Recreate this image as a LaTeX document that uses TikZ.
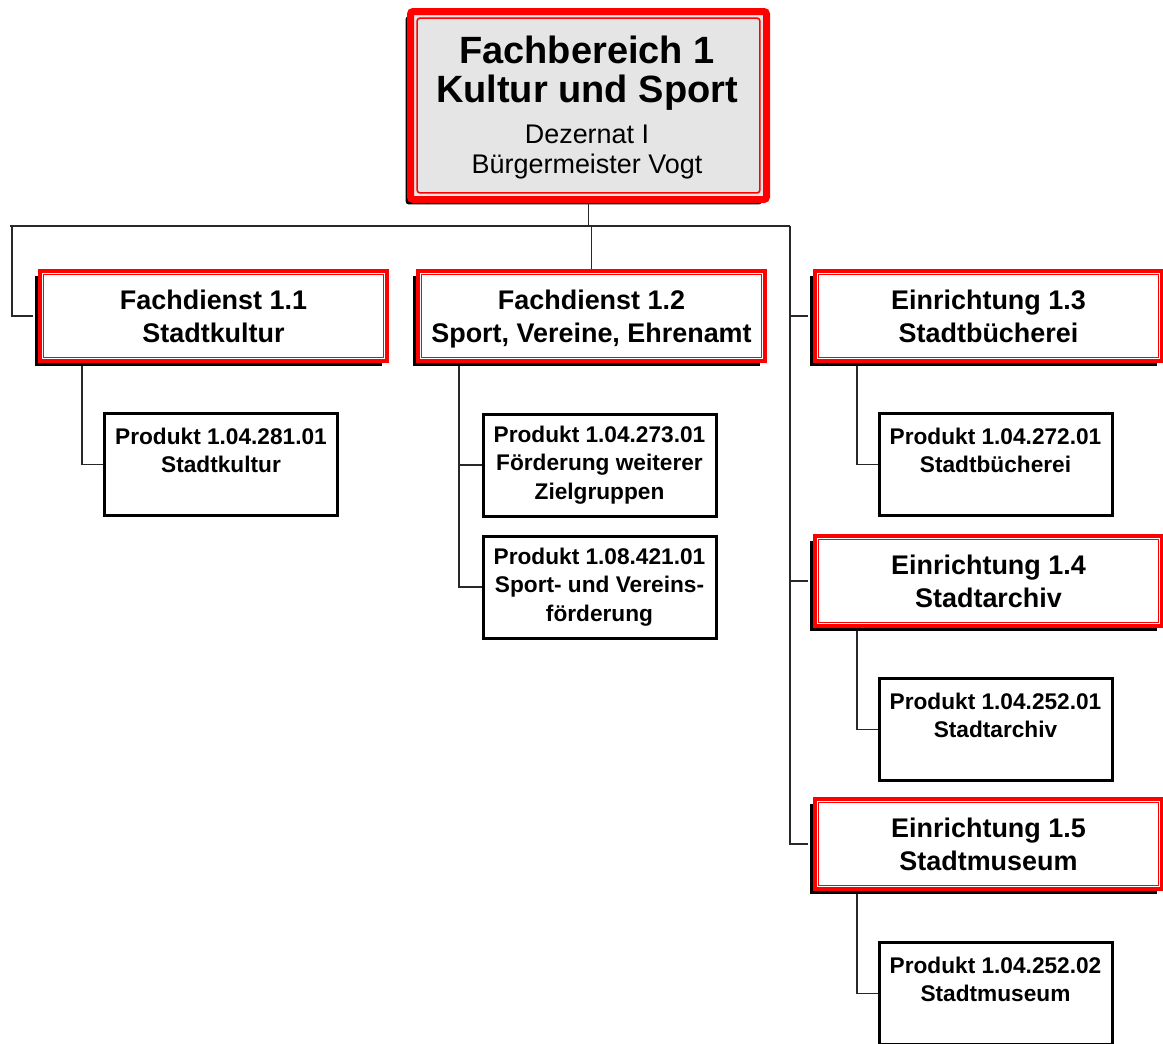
\documentclass[tikz,border=0pt]{standalone}
\usepackage{fontspec}
\setmainfont{Liberation Sans}
\usetikzlibrary{shadows}
\definecolor{topgray}{RGB}{229,229,229}
\definecolor{linegray}{RGB}{40,40,40}
\tikzset{
  conn/.style={draw=linegray, line width=1.4pt},
  blackshadow/.style={drop shadow={shadow xshift=-3.6pt, shadow yshift=-3.6pt, fill=black, opacity=1}},
  unitbox/.style={draw=red, line width=3pt, fill=white, blackshadow,
    minimum width=260.25pt, minimum height=67.5pt, inner sep=0pt, align=center,
    font=\bfseries\fontsize{20.2}{24.75}\selectfont,
    path picture={\draw[red, line width=0.8pt]
      ([shift={(2.6pt,-2.6pt)}]path picture bounding box.north west) rectangle
      ([shift={(-2.6pt,2.6pt)}]path picture bounding box.south east);}},
  topbox/.style={draw=red, line width=5.25pt, fill=topgray, blackshadow, rounded corners=2pt,
    minimum width=267pt, minimum height=141pt, inner sep=0pt,
    path picture={\draw[red, line width=1.2pt]
      ([shift={(5pt,-5pt)}]path picture bounding box.north west) rectangle
      ([shift={(-5pt,5pt)}]path picture bounding box.south east);}},
  prodbox/.style={draw=black, line width=2.25pt, fill=white,
    minimum width=174.75pt, minimum height=76.5pt, inner sep=0pt, align=center,
    font=\bfseries\fontsize{17}{21.5}\selectfont},
  bigtxt/.style={anchor=base, inner sep=0pt, font=\bfseries\fontsize{28.5}{28.5}\selectfont},
  smalltxt/.style={anchor=base, inner sep=0pt, font=\fontsize{20.2}{20.2}\selectfont},
}
\begin{document}
\begin{tikzpicture}[x=0.75pt, y=-0.75pt]
\useasboundingbox (0,0) rectangle (1163,1043);
\clip (0,0) rectangle (1163,1043);

% coordinates for connector routing
\coordinate (hl) at (10,226);
\coordinate (hr) at (790,226);
\coordinate (lv) at (12,226);
\coordinate (d11) at (82,363);
\coordinate (d12) at (459,363);
\coordinate (d13) at (857,363);
\coordinate (d14) at (857,627);
\coordinate (d15) at (857,890);

% products
\node[prodbox] (p11) at (221,464.5) {Produkt 1.04.281.01\\Stadtkultur\\\mbox{}};
\node[prodbox] (p12a) at (599.5,465) {Produkt 1.04.273.01\\Förderung weiterer\\Zielgruppen};
\node[prodbox] (p12b) at (599.5,587) {Produkt 1.08.421.01\\Sport- und Vereins-\\förderung};
\node[prodbox] (p13) at (995.5,464.5) {Produkt 1.04.272.01\\Stadtbücherei\\\mbox{}};
\node[prodbox] (p14) at (995.5,729.5) {Produkt 1.04.252.01\\Stadtarchiv\\\mbox{}};
\node[prodbox] (p15) at (995.5,993.5) {Produkt 1.04.252.02\\Stadtmuseum\\\mbox{}};

% connectors (drawn under the units)
\draw[conn] (d11) |- (p11.west);
\draw[conn] (d12) |- (p12b.west);
\draw[conn] (d12 |- p12a.west) -- (p12a.west);
\draw[conn] (d13) |- (p13.west);
\draw[conn] (d14) |- (p14.west);
\draw[conn] (d15) |- (p15.west);

% units
\node[unitbox] (f11) at (213.5,316) {Fachdienst 1.1\\Stadtkultur};
\node[unitbox] (f12) at (591.5,316) {Fachdienst 1.2\\\smash{Sport, Vereine, Ehrenamt}};
\node[unitbox] (e13) at (988.5,316) {Einrichtung 1.3\\Stadtbücherei};
\node[unitbox] (e14) at (988.5,581) {Einrichtung 1.4\\Stadtarchiv};
\node[unitbox] (e15) at (988.5,844) {Einrichtung 1.5\\Stadtmuseum};

% top
\node[topbox] (top) at (588.5,105.5) {};
\node[bigtxt] (t1) at (587,63) {Fachbereich 1};
\node[bigtxt] (t2) at (587,102) {Kultur und Sport};
\node[smalltxt] (t3) at (587,143) {Dezernat I};
\node[smalltxt] (t4) at (587,173) {Bürgermeister Vogt};

% upper connectors
\draw[conn] (top.south) -- (top.south |- hl);
\draw[conn] (hl) -- (hr);
\draw[conn] (lv) |- ([xshift=-4pt]f11.west);
\draw[conn] (f12.north) -- (f12.north |- hl);
\draw[conn] (hr) |- ([xshift=-4pt]e15.west);
\draw[conn] (hr |- e13.west) -- ([xshift=-4pt]e13.west);
\draw[conn] (hr |- e14.west) -- ([xshift=-4pt]e14.west);
\end{tikzpicture}
\end{document}
